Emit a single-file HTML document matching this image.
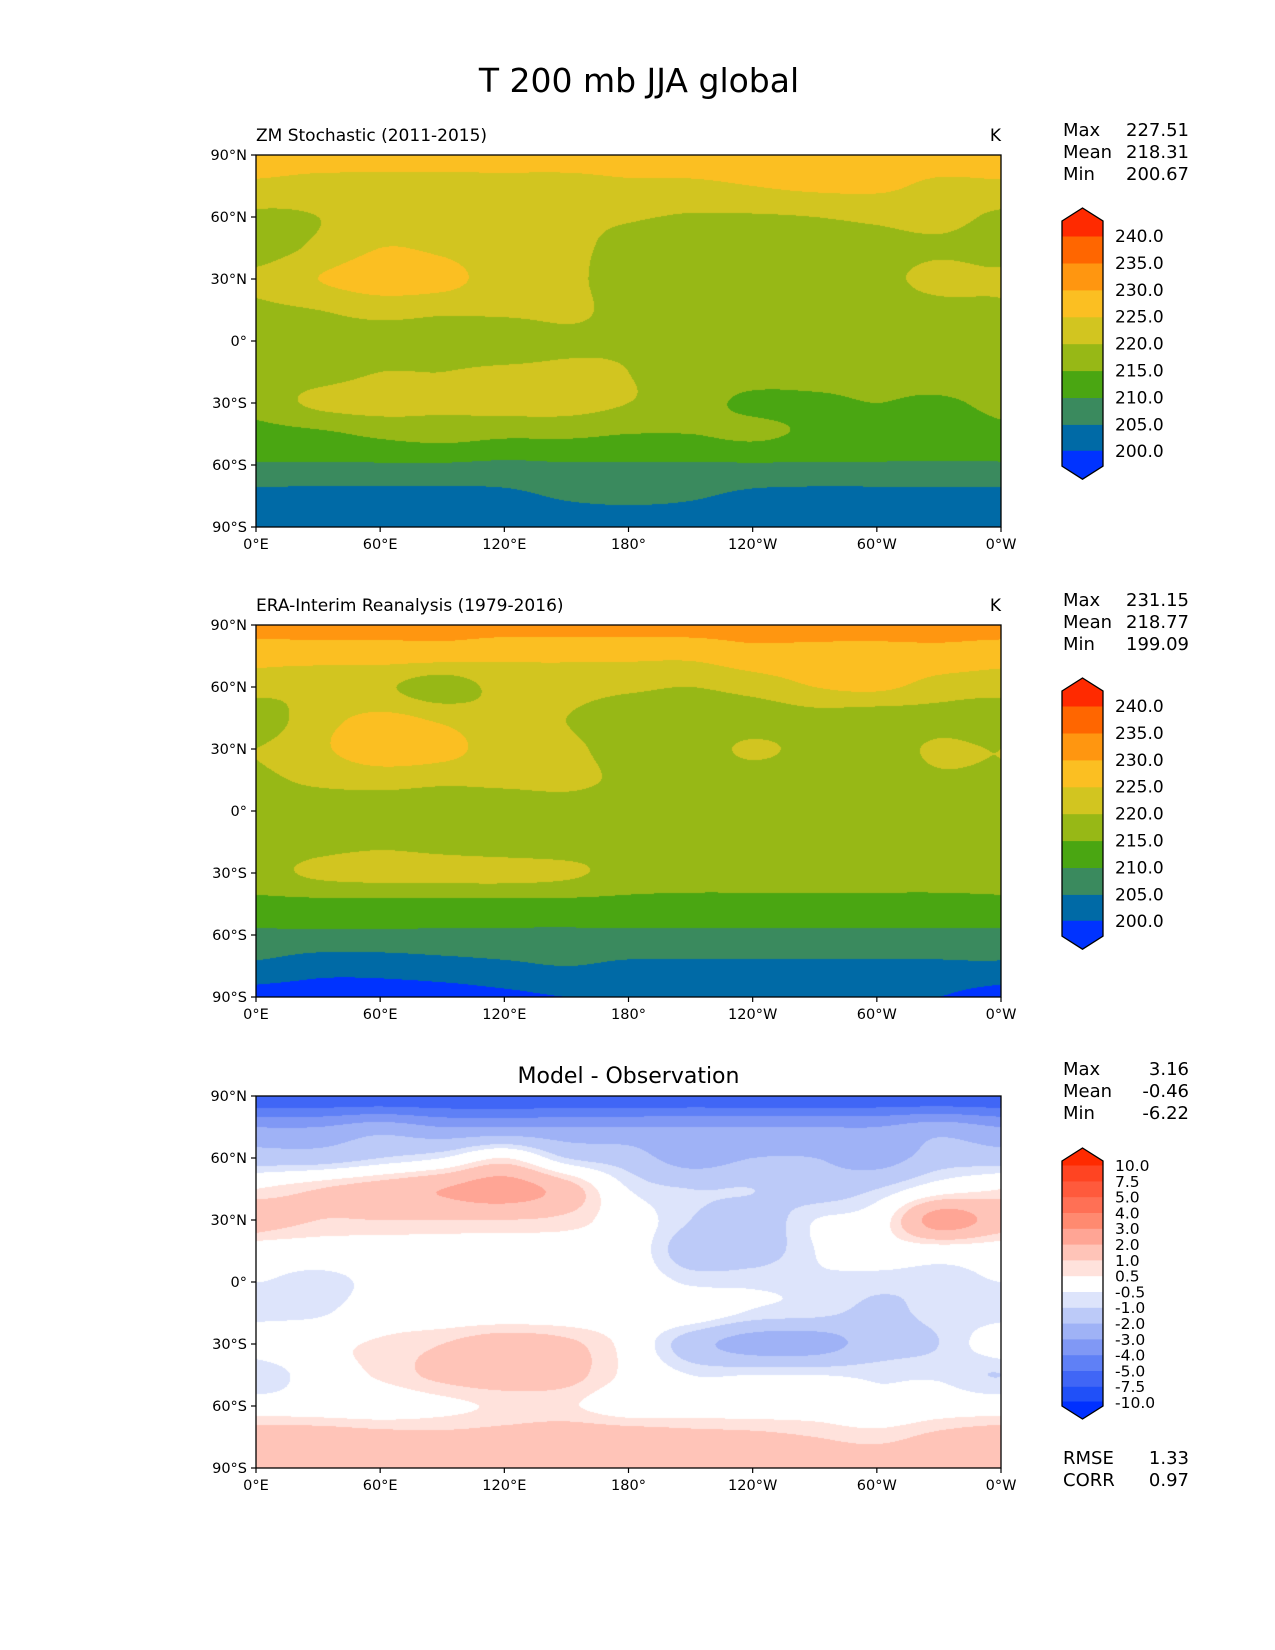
<!DOCTYPE html>
<html><head><meta charset="utf-8">
<style>
body{margin:0;background:#fff;font-family:"DejaVu Sans","Liberation Sans",sans-serif;}
#root{position:relative;width:1275px;height:1650px;overflow:hidden;background:#fff;}
canvas{position:absolute;}
svg{position:absolute;left:0;top:0;}
</style></head>
<body>
<div id="root">
<canvas id="m0" width="745" height="372" style="left:256px;top:155px"></canvas>
<canvas id="m1" width="745" height="372" style="left:256px;top:625px"></canvas>
<canvas id="m2" width="745" height="372" style="left:256px;top:1096px"></canvas>
<svg id="ov" width="1275" height="1650"></svg>
</div>
<script>
// lon nodes 0..360 step 30, lat rows 90..-90 step 15
const lonNodes=[0,30,60,90,120,150,180,210,240,270,300,330,360];
const latNodes=[90,75,60,45,30,15,0,-15,-30,-45,-60,-75,-90];
const modelField=[
[227.5,227.5,227.5,227.5,227.5,227.5,227.5,227.5,227.5,227.5,227.5,227.5,227.5],
[224,223,223,223,223,223,224,224,225,226,226,224,224],
[219,220,222,222,221,221,220.5,219.5,219.5,220,221,222,219],
[218,221,225,224,221,221,218.5,217,217,218,218,219,218],
[221,225,227.5,227,222,221,218,217,217,217,218,222,221],
[219,220,222,221,221,221,218.5,217,217,217,217,218,219],
[217,217,217,217,216.5,219,219,217,217,217,217,217,217],
[218,218,220,220,221,221,220,217,217,217,217,218,218],
[217,221,222,221,222,222,220,217,214,214,215,214,217],
[213,214,216,217,216,216,215,215,216,214,213,212,213],
[209.5,209.5,209.5,209.5,209,209.5,209.5,209.5,209.5,209.5,209.5,209.5,209.5],
[203.5,203.5,203.5,203.5,204,205.5,206,205.5,204,203.5,203.5,203.5,203.5],
[203,203,203,203,203,203,203,203,203,203,203,203,203]];
const obsField=[
[232,232,232,232,232,232,232,232,232,232,232,232,232],
[227,227,227,227,226,226,226,226,228,228,228,228,227],
[222,221,221,217,222,222,221,220,222,225,226,223,222],
[217,223,226,224,221,220,217,217,217,218,217,218,217],
[220,224,228,227,222,221,218,217,221,218,217,221,221],
[219,221,222,221,221,221,219,217,217,217,217,219,219],
[217,217,217,217,217,218,218,218,217,217,217,217,217],
[217,218,219,218,217,217,218,217,217,217,217,217,217],
[218,221,222,222,222,221,218,217,217,217,217,217,218],
[213.5,213.5,213.5,213.5,213.5,213.5,213.5,213.5,213.5,213.5,213.5,213.5,213.5],
[209,209,209,209,209,209,209,209,209,209,209,209,209],
[204,202,202,203,204,205,204,204,204,204,204,204,204],
[198,198,198,198,199,200,200,200,200,200,200,200,198]];
const diffField=[
[-6,-6,-6,-6,-6,-6,-6,-6,-6,-6,-6,-6,-6],
[-3,-3,-2.5,-3,-3,-3,-3,-3,-3,-3,-3,-2.5,-3],
[-1.5,-1.5,-1,-0.5,0.5,-1,-1.5,-2.5,-2,-2,-2.5,-1.5,-1.5],
[0.5,1,1.5,2,2.5,1.5,-0.5,-1,-1,-1.5,-1,0,0.5],
[1.5,1,1,1,1,0.8,0,-1,-1.5,-0.5,0,2.5,1.5],
[0,0,0,0,0,0,0,-1.5,-1.5,-0.5,0,0,0],
[-0.5,-0.7,-0.3,0,0,0,0,-0.6,-0.6,-0.6,-0.8,-0.8,-0.5],
[-0.7,-0.6,0,0,0,0,0,0,-0.6,-0.8,-1.2,-0.8,-0.7],
[0,0.3,0.6,1,1.5,1.2,0.2,-1.5,-2.5,-2.5,-1.5,-1,0],
[-1,0,0.6,1.2,1.5,1.3,0.3,-0.5,-0.5,-0.5,-0.6,-0.6,-1],
[0,0,0,0.3,0.6,0.6,0,0,0,0,-0.3,0,0],
[1.5,1.5,1.3,1.2,1.3,1.5,1.5,1.3,1.2,1,0.8,1.2,1.5],
[1.5,1.5,1.5,1.5,1.5,1.5,1.5,1.5,1.5,1.5,1.5,1.5,1.5]];
const tLevels=[200,205,210,215,220,225,230,235,240];
const tColors=["#0033ff","#006aa6","#3a8a5e","#4aa612","#97b816","#d2c520","#fbbf22","#ff9610","#ff6600","#ff2a00"];
const tLabels=["200.0","205.0","210.0","215.0","220.0","225.0","230.0","235.0","240.0"];
const dLevels=[-10,-7.5,-5,-4,-3,-2,-1,-0.5,0.5,1,2,3,4,5,7.5,10];
const dColors=["#0030ff","#2050f8","#4066f6","#5f80f6","#8098f5","#9fb2f6","#bccaf8","#dde4fb","#ffffff","#ffe2dc","#ffc4b8","#ffa595","#ff8a70","#ff7055","#ff5a3c","#ff4422","#ff2a00"];
const dLabels=["-10.0","-7.5","-5.0","-4.0","-3.0","-2.0","-1.0","-0.5","0.5","1.0","2.0","3.0","4.0","5.0","7.5","10.0"];
const stats=[["227.51","218.31","200.67"],["231.15","218.77","199.09"],["3.16","-0.46","-6.22"]];
const latTicks=["90°N","60°N","30°N","0°","30°S","60°S","90°S"];
const lonTicks=["0°E","60°E","120°E","180°","120°W","60°W","0°W"];

const L=256,W=745,H=372,tops=[155,625,1096];
function hex(c){return [parseInt(c.substr(1,2),16),parseInt(c.substr(3,2),16),parseInt(c.substr(5,2),16)];}
function cr(p0,p1,p2,p3,t){return 0.5*((2*p1)+(-p0+p2)*t+(2*p0-5*p1+4*p2-p3)*t*t+(-p0+3*p1-3*p2+p3)*t*t*t);}
function gv(f,j,i){j=Math.max(0,Math.min(12,j));i=((i%12)+12)%12;return f[j][i];}
function sample(f,lon,lat){
  let fx=lon/30, fy=(90-lat)/15;
  let i=Math.floor(fx), j=Math.min(11,Math.floor(fy));
  let tx=fx-i, ty=fy-j;
  const rows=[];
  for(let m=-1;m<=2;m++){rows.push(cr(gv(f,j+m,i-1),gv(f,j+m,i),gv(f,j+m,i+1),gv(f,j+m,i+2),tx));}
  return cr(rows[0],rows[1],rows[2],rows[3],ty);
}
function drawMap(id,f,lev,cols){
  const cv=document.getElementById(id),ctx=cv.getContext('2d');
  const img=ctx.createImageData(W,H);const rgb=cols.map(hex);
  for(let y=0;y<H;y++){const lat=90-(y+0.5)/H*180;
    for(let x=0;x<W;x++){const lon=(x+0.5)/W*360;
      const v=sample(f,lon,lat);let k=0;while(k<lev.length&&v>=lev[k])k++;
      const c=rgb[k],p=(y*W+x)*4;img.data[p]=c[0];img.data[p+1]=c[1];img.data[p+2]=c[2];img.data[p+3]=255;}}
  ctx.putImageData(img,0,0);
}
drawMap('m0',modelField,tLevels,tColors);
drawMap('m1',obsField,tLevels,tColors);
drawMap('m2',diffField,dLevels,dColors);

const ov=document.getElementById('ov');const NS="http://www.w3.org/2000/svg";
function el(t,a,txt){const e=document.createElementNS(NS,t);for(const k in a)e.setAttribute(k,a[k]);if(txt!==undefined)e.textContent=txt;ov.appendChild(e);return e;}
const title=el('text',{x:639,y:92,'font-size':33,'text-anchor':'middle',fill:'#000'},'T 200 mb JJA global');


const subs=["ZM Stochastic (2011-2015)","ERA-Interim Reanalysis (1979-2016)"];
for(let p=0;p<3;p++){
  const T=tops[p];
  const fr=el('rect',{x:L,y:T,width:W,height:H,fill:'none',stroke:'#000','stroke-width':1.3});
  
  
  if(p<2){
    const s=el('text',{x:L,y:T-14,'font-size':17,fill:'#000'},subs[p]);
    
    
    const u=el('text',{x:L+W,y:T-14,'font-size':17,'text-anchor':'end',fill:'#000'},'K');
    
    
  } else {
    const s=el('text',{x:L+W/2,y:T-13,'font-size':22,'text-anchor':'middle',fill:'#000'},'Model - Observation');
    
    
  }
  latTicks.forEach((t,i)=>{const y=T+i*H/6;
    el('line',{x1:L-5,x2:L,y1:y,y2:y,stroke:'#000','stroke-width':1.2});
    const tx=el('text',{x:L-9,y:y+5,'font-size':14.5,'text-anchor':'end',fill:'#000'},t);
    
    });
  lonTicks.forEach((t,i)=>{const x=L+i*W/6;
    el('line',{x1:x,x2:x,y1:T+H,y2:T+H+5,stroke:'#000','stroke-width':1.2});
    const tx=el('text',{x:x,y:T+H+22,'font-size':14.5,'text-anchor':'middle',fill:'#000'},t);
    
    });
  const sy=[136,606,1075][p];
  ["Max","Mean","Min"].forEach((n,i)=>{
    const a=el('text',{x:1063,y:sy+i*22,'font-size':18,fill:'#000'},n);
    
    
    const b=el('text',{x:1189,y:sy+i*22,'font-size':18,'text-anchor':'end',fill:'#000'},stats[p][i]);
    
    });
  const lev=p<2?tLevels:dLevels,cols=p<2?tColors:dColors,labs=p<2?tLabels:dLabels;
  const x0=1062,x1=1103,xm=(x0+x1)/2;
  let top,step,fs;
  if(p<2){top=[236,706][p];step=26.9;fs=17;}else{top=1165;step=15.8;fs=15.5;}
  const n=lev.length, yTop=top, yBot=top+(n-1)*step;
  for(let k=0;k<n-1;k++){const y=yBot-(k+1)*step;
    const r=el('rect',{x:x0,y:y,width:x1-x0,height:step+0.6,fill:cols[k+1]});
    
    }
  const ext=p<2?28:17;
  const up=el('polygon',{points:`${x0},${yTop+0.5} ${x0},${yTop-ext+13} ${xm},${yTop-ext} ${x1},${yTop-ext+13} ${x1},${yTop+0.5}`,fill:cols[n]});
  
  
  const dn=el('polygon',{points:`${x0},${yBot-0.5} ${x0},${yBot+ext-13} ${xm},${yBot+ext} ${x1},${yBot+ext-13} ${x1},${yBot-0.5}`,fill:cols[0]});
  
  
  el('polygon',{points:`${x0},${yTop-ext+13} ${xm},${yTop-ext} ${x1},${yTop-ext+13} ${x1},${yBot+ext-13} ${xm},${yBot+ext} ${x0},${yBot+ext-13}`,fill:'none',stroke:'#000','stroke-width':1.3});
  lev.forEach((v,k)=>{const y=yBot-k*step;
    const t=el('text',{x:x1+12,y:y+6,'font-size':fs,fill:'#000'},labs[k]);
    
    });
}
[["RMSE","1.33"],["CORR","0.97"]].forEach((r,i)=>{
  const a=el('text',{x:1063,y:1464+i*22,'font-size':18,fill:'#000'},r[0]);
  
  
  const b=el('text',{x:1189,y:1464+i*22,'font-size':18,'text-anchor':'end',fill:'#000'},r[1]);
  
  });
</script>
</body></html>
